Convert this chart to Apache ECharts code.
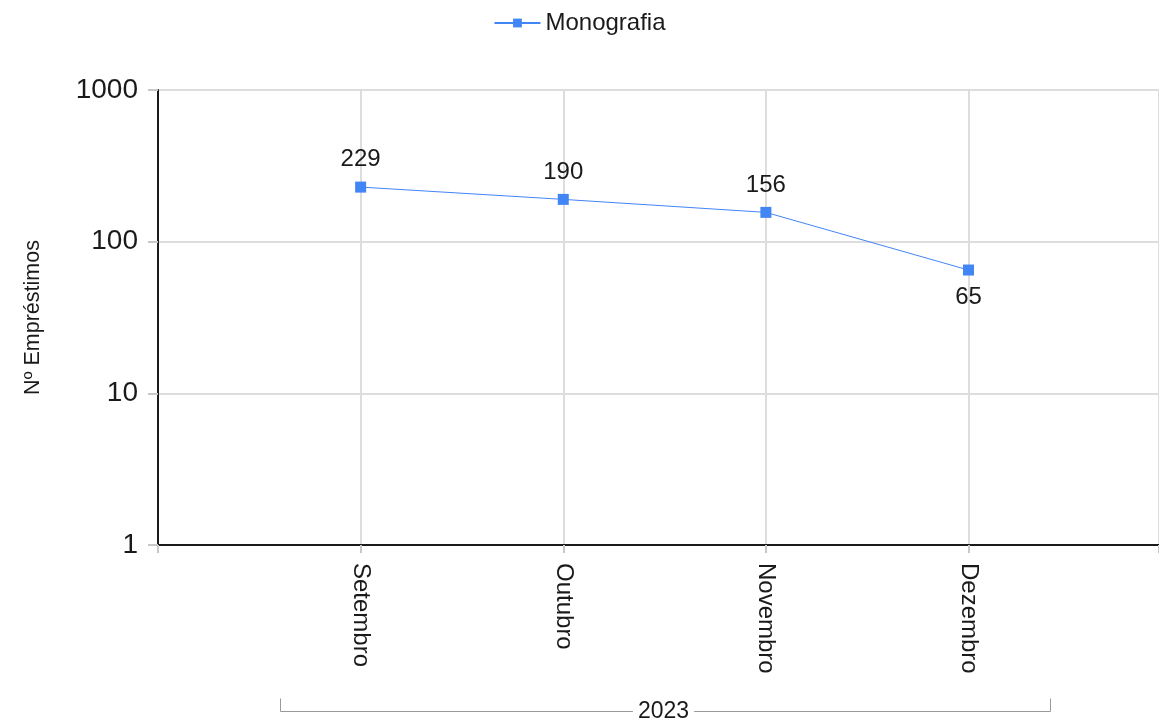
<!DOCTYPE html>
<html>
<head>
<meta charset="utf-8">
<title>Nº Empréstimos — Monografia</title>
<script src="https://cdn.jsdelivr.net/npm/echarts@6/dist/echarts.min.js"></script>
<style>
  html, body { margin: 0; padding: 0; background: #ffffff; }
  #chart { width: 1159px; height: 722px; }
</style>
</head>
<body>
<div id="chart"></div>
<script>
// Monthly loans of the "Monografia" collection, 2023
const months = ['Setembro', 'Outubro', 'Novembro', 'Dezembro'];
const loans = [229, 190, 156, 65];
const yTicks = [1, 10, 100, 1000];
const seriesName = 'Monografia';
const yearLabel = '2023';
const yAxisTitle = 'Nº Empréstimos';

const FONT = '"Liberation Sans", Arial, sans-serif';
const TEXT = '#1a1a1a';
const BLUE = '#4285f4';

// months sit at positions 1..n on the horizontal axis; slot 0 is the y axis
const xMax = 4.94;
const seriesData = loans.map(function (v, i) {
  const last = i === loans.length - 1;
  return { value: [i + 1, v], label: { position: last ? 'bottom' : 'top' } };
});

const chart = echarts.init(document.getElementById('chart'), null, { renderer: 'canvas' });

chart.setOption({
  animation: false,
  backgroundColor: '#ffffff',
  textStyle: { fontFamily: FONT },
  legend: {
    top: 6,
    left: 'center',
    itemWidth: 46,
    itemHeight: 11,
    itemGap: 8,
    textStyle: { fontSize: 24, color: TEXT, fontFamily: FONT },
    data: [seriesName]
  },
  grid: { left: 158, top: 90, right: 0, height: 455 },
  xAxis: {
    type: 'value',
    min: 0,
    max: xMax,
    interval: 1,
    axisLine: { show: true, lineStyle: { color: '#1a1a1a', width: 2 } },
    axisTick: { show: true, length: 8, lineStyle: { color: '#c8c8c8', width: 2 } },
    splitLine: { show: true, lineStyle: { color: '#dddddd', width: 2 } },
    axisLabel: {
      rotate: -90,
      margin: 18,
      fontSize: 24,
      color: TEXT,
      fontFamily: FONT,
      formatter: function (v) {
        return Number.isInteger(v) && v >= 1 ? (months[v - 1] || '') : '';
      }
    }
  },
  yAxis: {
    type: 'log',
    logBase: 10,
    min: yTicks[0],
    max: yTicks[yTicks.length - 1],
    name: yAxisTitle,
    nameLocation: 'middle',
    nameRotate: 90,
    nameGap: 114,
    nameTextStyle: { fontSize: 21.5, color: TEXT, fontFamily: FONT },
    axisLine: { show: true, lineStyle: { color: '#1a1a1a', width: 2 } },
    axisTick: { show: true, length: 10, lineStyle: { color: '#c8c8c8', width: 2 } },
    splitLine: { show: true, lineStyle: { color: '#dddddd', width: 2 } },
    axisLabel: {
      margin: 20,
      fontSize: 28,
      color: TEXT,
      fontFamily: FONT,
      formatter: function (v) { return String(Math.round(v)); }
    }
  },
  series: [{
    name: seriesName,
    type: 'line',
    data: seriesData,
    symbol: 'rect',
    symbolSize: 11,
    showAllSymbol: true,
    itemStyle: { color: BLUE },
    lineStyle: { color: BLUE, width: 1 },
    label: {
      show: true,
      distance: 10,
      fontSize: 24,
      color: TEXT,
      fontFamily: FONT,
      formatter: function (p) { return String(p.value[1]); }
    }
  }]
});

// year bracket spanning the months along the horizontal axis
(function drawYearBracket() {
  const x0 = chart.convertToPixel({ xAxisIndex: 0 }, 1);
  const x1 = chart.convertToPixel({ xAxisIndex: 0 }, months.length);
  const step = (x1 - x0) / (months.length - 1);
  const left = Math.round(x0 - step * 0.4) + 0.5;
  const right = Math.round(x1 + step * 0.4) + 0.5;
  const y = 711.5;
  const rise = 13;
  const mid = (left + right) / 2;
  chart.setOption({
    graphic: [
      {
        type: 'polyline',
        silent: true,
        shape: { points: [[left, y - rise], [left, y], [right, y], [right, y - rise]] },
        style: { stroke: '#9a9a9a', lineWidth: 1, fill: null }
      },
      {
        type: 'text',
        silent: true,
        x: mid - 2,
        y: y,
        style: {
          text: yearLabel,
          fontSize: 23,
          fontFamily: FONT,
          fill: TEXT,
          align: 'center',
          verticalAlign: 'middle',
          backgroundColor: '#ffffff',
          padding: [0, 5]
        }
      }
    ]
  });
})();
</script>
</body>
</html>
